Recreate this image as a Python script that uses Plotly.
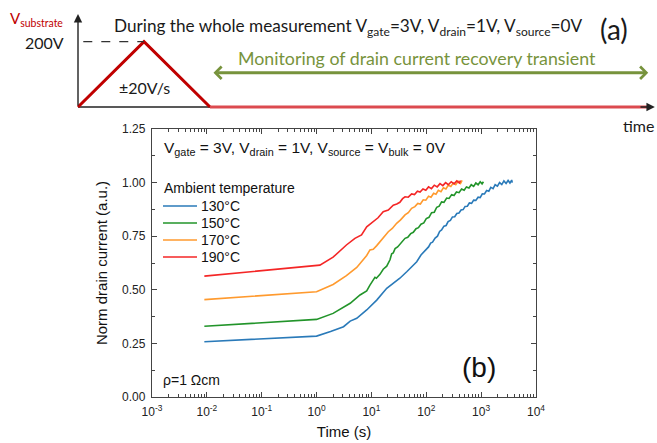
import plotly.graph_objects as go

W, H = 657, 443

# ---- Panel (b): normalized drain current recovery after the substrate pulse ----
temps = ["130°C", "150°C", "170°C", "190°C"]
colors = ["#2a7ab9", "#22942a", "#ff9a2e", "#f42626"]

t_130 = [0.009, 1.0, 1.8, 3.1, 4.1, 5.4, 8.2, 12.5, 19, 33, 44, 67, 80, 90, 100, 110,
         120, 130, 145, 160, 175, 190, 210, 230, 250, 275, 300, 330, 360, 395, 430, 470,
         510, 560, 610, 670, 730, 800, 880, 960, 1050, 1150, 1260, 1380, 1500, 1650,
         1800, 1980, 2170, 2380, 2600, 2850, 3100, 3350, 3600, 3700]
i_130 = [0.258, 0.284, 0.305, 0.328, 0.354, 0.367, 0.406, 0.452, 0.507, 0.554, 0.584,
         0.631, 0.662, 0.676, 0.690, 0.700, 0.718, 0.722, 0.741, 0.750, 0.772, 0.779,
         0.797, 0.800, 0.818, 0.824, 0.840, 0.841, 0.856, 0.858, 0.872, 0.874, 0.889,
         0.890, 0.905, 0.903, 0.918, 0.917, 0.932, 0.930, 0.948, 0.947, 0.963, 0.960,
         0.978, 0.972, 0.990, 0.983, 1.000, 0.991, 1.008, 0.996, 1.010, 0.998, 1.012, 1.000]

t_150 = [0.009, 1.0, 2.0, 3.5, 4.1, 6.2, 8.2, 9.4, 10.5, 11.6, 12.3, 14.3, 16.4, 19,
         21.8, 23.4, 25, 27, 30, 33, 37, 41, 46, 52, 58, 65, 72, 80, 90, 100, 112, 125,
         140, 155, 172, 190, 210, 235, 260, 290, 320, 355, 395, 440, 490, 540, 600, 660,
         730, 800, 880, 960, 1040, 1100]
i_150 = [0.330, 0.362, 0.390, 0.428, 0.437, 0.476, 0.495, 0.522, 0.540, 0.558, 0.554,
         0.572, 0.596, 0.610, 0.640, 0.668, 0.672, 0.692, 0.700, 0.712, 0.722, 0.740,
         0.745, 0.762, 0.768, 0.785, 0.790, 0.806, 0.812, 0.832, 0.838, 0.860, 0.862,
         0.885, 0.890, 0.910, 0.908, 0.928, 0.926, 0.944, 0.940, 0.956, 0.953, 0.970,
         0.964, 0.980, 0.975, 0.990, 0.982, 0.998, 0.990, 1.004, 0.994, 1.004]

t_170 = [0.009, 1.0, 2.0, 3.5, 5.4, 6.6, 7.1, 8.2, 9.4, 10.8, 12.5, 14.3, 17, 20.3, 24,
         28.8, 34, 41, 47, 54, 62, 70, 78, 88, 98, 110, 122, 136, 150, 166, 185, 205,
         228, 252, 280, 310, 345, 380, 420, 450]
i_170 = [0.454, 0.491, 0.525, 0.566, 0.604, 0.632, 0.639, 0.660, 0.686, 0.689, 0.706,
         0.724, 0.748, 0.771, 0.786, 0.810, 0.826, 0.849, 0.860, 0.880, 0.888, 0.903,
         0.900, 0.920, 0.918, 0.936, 0.932, 0.950, 0.946, 0.964, 0.958, 0.976, 0.970,
         0.988, 0.982, 0.998, 0.990, 1.006, 0.996, 1.010]

t_190 = [0.009, 1.0, 1.15, 2.0, 3.1, 3.5, 5.0, 5.4, 6.6, 8.2, 10, 12.5, 13.2, 16.4,
         18.5, 20.3, 25, 29, 33, 37, 41, 47, 54, 61, 69, 77, 87, 98, 110, 124, 140, 158,
         178, 200, 225, 252, 285, 320, 360, 400, 420]
i_190 = [0.564, 0.612, 0.615, 0.652, 0.698, 0.709, 0.740, 0.745, 0.756, 0.794, 0.812,
         0.833, 0.836, 0.864, 0.868, 0.872, 0.895, 0.900, 0.908, 0.925, 0.934, 0.932,
         0.947, 0.944, 0.960, 0.956, 0.970, 0.964, 0.980, 0.972, 0.988, 0.980, 0.995,
         0.986, 1.000, 0.990, 1.004, 0.994, 1.008, 0.998, 1.010]

times = [t_130, t_150, t_170, t_190]
currents = [i_130, i_150, i_170, i_190]

x_decades = [-3, -2, -1, 0, 1, 2, 3, 4]
x_ticktext = ["10<sup>%d</sup>" % d for d in x_decades]

# ---- Panel (a): substrate bias profile (arbitrary time units) ----
ramp_t = [0, 10, 20]
ramp_v = [0, 200, 0]
hold_t = [20, 86.4]
hold_v = [0, 0]


def px(x):
    return x / W


def py(y):
    return 1 - y / H


ARIAL = "Arial"
CALIBRI = "Lato"
AX = "#444444"

fig = go.Figure()

for name, t, i, c in zip(temps, times, currents, colors):
    fig.add_trace(go.Scatter(x=t, y=i, mode="lines", name=name,
                             line=dict(color=c, width=1.6),
                             xaxis="x", yaxis="y", showlegend=False))

fig.add_trace(go.Scatter(x=ramp_t, y=ramp_v, mode="lines",
                         line=dict(color="#c00000", width=3),
                         xaxis="x2", yaxis="y2", showlegend=False))
fig.add_trace(go.Scatter(x=hold_t, y=hold_v, mode="lines",
                         line=dict(color="#dc4a4f", width=3),
                         xaxis="x2", yaxis="y2", showlegend=False))

annotations = []
shapes = []

# schematic axes (arrows)
annotations.append(dict(x=0, y=284.8, ax=0, ay=0, xref="x2", yref="y2",
                        axref="x2", ayref="y2", text="", showarrow=True,
                        arrowhead=2, arrowsize=1.2, arrowwidth=1.4, arrowcolor="#222"))
shapes.append(dict(type="line", xref="x2", yref="y2", x0=0, x1=85.0, y0=0, y1=0,
                   line=dict(color="#222", width=1.4), layer="below"))
annotations.append(dict(x=87.4, y=0, ax=85.0, ay=0, xref="x2", yref="y2",
                        axref="x2", ayref="y2", text="", showarrow=True,
                        arrowhead=2, arrowsize=1.2, arrowwidth=1.4, arrowcolor="#222"))
# dashed guide at the peak voltage
shapes.append(dict(type="line", xref="x2", yref="y2", x0=0.8, x1=ramp_t[1],
                   y0=ramp_v[1], y1=ramp_v[1],
                   line=dict(color="#333", width=1.2, dash="dash")))
# monitoring window double arrow
annotations.append(dict(x=hold_t[1], y=105, ax=hold_t[0] + 0.3, ay=105,
                        xref="x2", yref="y2", axref="x2", ayref="y2", text="",
                        showarrow=True, arrowside="end+start",
                        arrowhead=4, startarrowhead=4, arrowsize=0.8,
                        startarrowsize=0.8, arrowwidth=3, arrowcolor="#77933c"))


def label(text, x, y, size, color="#1a1a1a", family=CALIBRI, xanchor="left",
          yanchor="middle"):
    annotations.append(dict(text=text, x=px(x), y=py(y), xref="paper", yref="paper",
                            showarrow=False, xanchor=xanchor, yanchor=yanchor,
                            font=dict(size=size, color=color, family=family)))


label("V<sub>substrate</sub>", 8, 19, 15, color="#c00000")
label("200V", 66, 42, 16, xanchor="right")
label("During the whole measurement V<sub>gate</sub>=3V, V<sub>drain</sub>=1V, "
      "V<sub>source</sub>=0V", 112, 27, 17.2)
label("(a)", 598, 29, 28)
label("Monitoring of drain current recovery transient", 236, 58, 17.8, color="#77933c")
label("±20V/s", 117, 88, 16)
label("time", 621, 125, 16)

label("V<sub>gate</sub> = 3V, V<sub>drain</sub> = 1V, V<sub>source</sub> = "
      "V<sub>bulk</sub> = 0V", 162, 148, 15.5, family=ARIAL, color="#111")
label("Ambient temperature", 162, 188, 14, family=ARIAL, color="#111")
for k, (name, c) in enumerate(zip(temps, colors)):
    yy = 206 + 17 * k
    shapes.append(dict(type="line", xref="paper", yref="paper",
                       x0=px(163), x1=px(197), y0=py(yy), y1=py(yy),
                       line=dict(color=c, width=1.6)))
    label(name, 199, yy, 14, family=ARIAL, color="#111")
label("ρ=1 Ωcm", 161, 380, 14, family=ARIAL, color="#111")
label("(b)", 460, 367, 28, family=ARIAL, color="#111")

minor_x = [m * 10.0 ** e for e in range(-3, 4) for m in range(2, 10)]

fig.update_layout(
    width=W, height=H, autosize=False,
    margin=dict(l=0, r=0, t=0, b=0, autoexpand=False),
    paper_bgcolor="white", plot_bgcolor="white",
    showlegend=False,
    xaxis=dict(type="log", range=[-3, 4], domain=[px(152), px(536)],
               anchor="y", tickmode="array", automargin=False,
               tickvals=[10.0 ** d for d in x_decades], ticktext=x_ticktext,
               ticks="inside", ticklen=5, tickwidth=1.2, tickcolor=AX,
               ticklabelstandoff=3,
               showline=True, linecolor=AX, linewidth=1.3, mirror="ticks",
               showgrid=False, zeroline=False,
               minor=dict(tickmode="array", tickvals=minor_x, ticks="inside",
                          ticklen=3, tickwidth=1, tickcolor=AX, showgrid=False),
               tickfont=dict(family=ARIAL, size=12, color="#222"),
               title=dict(text="Time (s)", standoff=8,
                          font=dict(family=ARIAL, size=15, color="#111"))),
    yaxis=dict(range=[0, 1.25], domain=[py(397), py(129)], anchor="x",
               tickmode="linear", tick0=0, dtick=0.25, tickformat=".2f",
               automargin=False, ticklabelstandoff=3,
               ticks="inside", ticklen=5, tickwidth=1.2, tickcolor=AX,
               showline=True, linecolor=AX, linewidth=1.3, mirror="ticks",
               showgrid=False, zeroline=False,
               minor=dict(dtick=0.125, ticks="inside", ticklen=3, tickwidth=1,
                          tickcolor=AX, showgrid=False),
               tickfont=dict(family=ARIAL, size=12, color="#222"),
               title=dict(text="Norm drain current (a.u.)", standoff=10,
                          font=dict(family=ARIAL, size=15, color="#111"))),
    xaxis2=dict(domain=[px(70), 1], range=[-1.212, 87.727], visible=False,
                anchor="y2", fixedrange=True),
    yaxis2=dict(domain=[py(120), py(14)], range=[-39.8, 284.8], visible=False,
                anchor="x2", fixedrange=True),
    annotations=annotations,
    shapes=shapes,
)

fig.write_html("out.html")
